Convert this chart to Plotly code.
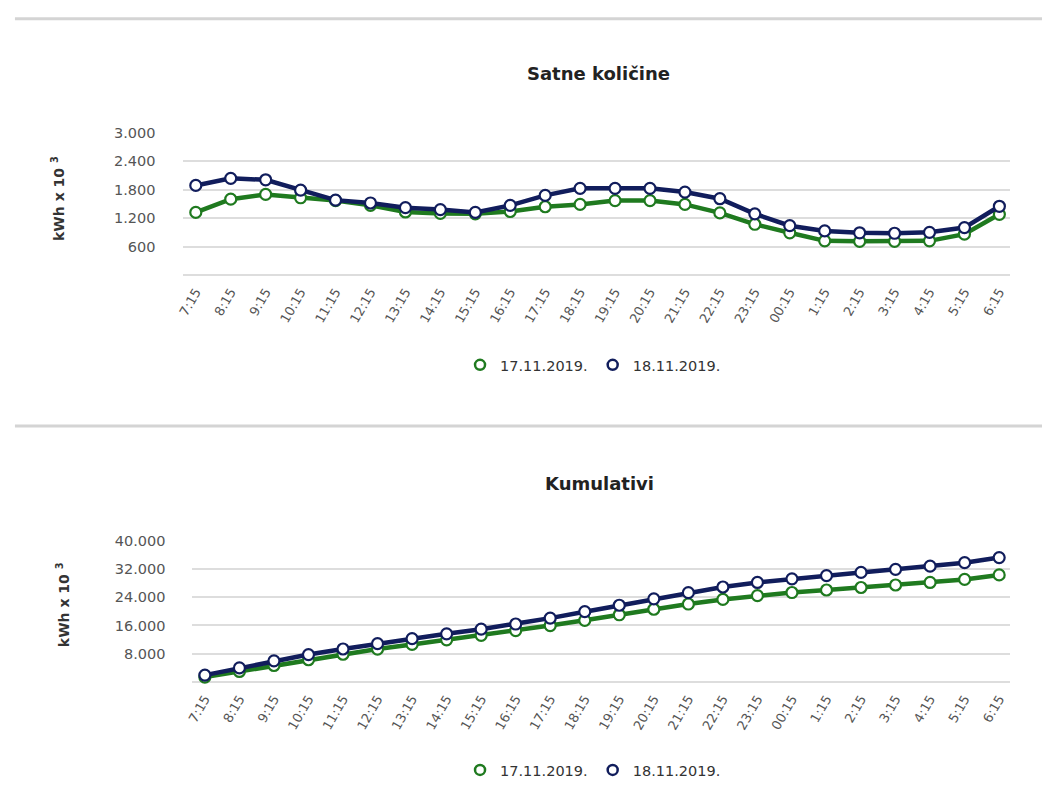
import plotly.graph_objects as go

hours = ["7:15", "8:15", "9:15", "10:15", "11:15", "12:15", "13:15", "14:15", "15:15",
         "16:15", "17:15", "18:15", "19:15", "20:15", "21:15", "22:15", "23:15", "00:15",
         "1:15", "2:15", "3:15", "4:15", "5:15", "6:15"]

hourly_17 = [1320, 1600, 1700, 1630, 1570, 1470, 1330, 1300, 1290, 1340, 1440, 1490,
             1570, 1570, 1490, 1310, 1070, 890, 720, 710, 710, 720, 860, 1280]
hourly_18 = [1890, 2040, 2010, 1790, 1580, 1520, 1420, 1380, 1320, 1470, 1680, 1830,
             1830, 1830, 1750, 1610, 1290, 1040, 930, 890, 880, 900, 1000, 1450]

cum_17 = [1320, 2920, 4620, 6250, 7820, 9290, 10620, 11920, 13210, 14550, 15990, 17480,
          19050, 20620, 22110, 23420, 24490, 25380, 26100, 26810, 27520, 28240, 29100, 30380]
cum_18 = [1890, 3930, 5940, 7730, 9310, 10830, 12250, 13630, 14950, 16420, 18100, 19930,
          21760, 23590, 25340, 26950, 28240, 29280, 30210, 31100, 31980, 32880, 33880, 35330]

series_names = ["17.11.2019.", "18.11.2019."]
colors = ["#1f7a1f", "#111d5c"]

top_ticks = [600, 1200, 1800, 2400, 3000]
top_ticktext = ["600", "1.200", "1.800", "2.400", "3.000"]
bot_ticks = [8000, 16000, 24000, 32000, 40000]
bot_ticktext = ["8.000", "16.000", "24.000", "32.000", "40.000"]

W, H = 1042, 786
FONT = "DejaVu Sans, Liberation Sans, Arial, sans-serif"

fig = go.Figure()

def add_series(xaxis, yaxis, values_list, legend):
    for name, vals, col in zip(series_names, values_list, colors):
        fig.add_trace(go.Scatter(
            x=hours, y=vals, mode="lines+markers", name=name, showlegend=False,
            xaxis=xaxis, yaxis=yaxis, cliponaxis=False,
            line=dict(color=col, width=4.5),
            marker=dict(symbol="circle", size=11, color="white",
                        line=dict(color=col, width=2.2)),
        ))
    for name, col in zip(series_names, colors):
        fig.add_trace(go.Scatter(
            x=[None], y=[None], mode="markers", name=name, legend=legend,
            xaxis=xaxis, yaxis=yaxis,
            marker=dict(symbol="circle", size=10, color="white",
                        line=dict(color=col, width=2.5)),
        ))

add_series("x", "y", [hourly_17, hourly_18], "legend")
add_series("x2", "y2", [cum_17, cum_18], "legend2")

def px_x(p):
    return p / W

def px_y(p):
    return 1 - p / H

xaxis_common = dict(
    type="category", showgrid=False, zeroline=False, showline=False, ticks="",
    tickangle=-60, tickfont=dict(family=FONT, size=13, color="#555555"),
    ticklabelstandoff=6,
)
yaxis_common = dict(
    showgrid=True, gridcolor="#dddddd", gridwidth=1.5,
    zeroline=True, zerolinecolor="#dddddd", zerolinewidth=1.5, showline=False,
    ticks="", tickfont=dict(family=FONT, size=14.5, color="#555555"),
    ticklabelstandoff=26,
)

fig.update_layout(
    width=W, height=H, autosize=False,
    margin=dict(l=0, r=0, t=0, b=0),
    paper_bgcolor="white", plot_bgcolor="white",
    font=dict(family=FONT),
    xaxis=dict(domain=[px_x(176.7), px_x(1010)], range=[-0.38, 23.31], anchor="y",
               **xaxis_common),
    yaxis=dict(domain=[px_y(270.7), px_y(126.7)], range=[0, 3000], anchor="x",
               tickvals=top_ticks, ticktext=top_ticktext, **yaxis_common),
    xaxis2=dict(domain=[px_x(186.7), px_x(1010)], range=[-0.36, 23.32], anchor="y2",
                **xaxis_common),
    yaxis2=dict(domain=[px_y(683.3), px_y(540.7)], range=[0, 40000], anchor="x2",
                tickvals=bot_ticks, ticktext=bot_ticktext, **yaxis_common),
    legend=dict(orientation="h", x=px_x(590), y=px_y(362), xanchor="center", yanchor="middle",
                font=dict(family=FONT, size=14.5, color="#333333"), bgcolor="rgba(0,0,0,0)"),
    legend2=dict(orientation="h", x=px_x(590), y=px_y(773), xanchor="center", yanchor="middle",
                 font=dict(family=FONT, size=14.5, color="#333333"), bgcolor="rgba(0,0,0,0)"),
    shapes=[
        dict(type="line", xref="paper", yref="paper", x0=px_x(8), x1=1, y0=px_y(11), y1=px_y(11),
             line=dict(color="#d4d4d4", width=3)),
        dict(type="line", xref="paper", yref="paper", x0=px_x(8), x1=1, y0=px_y(424), y1=px_y(424),
             line=dict(color="#d4d4d4", width=3)),
    ],
    annotations=[
        dict(text="<b>Satne količine</b>", xref="paper", yref="paper", x=px_x(595), y=px_y(66),
             showarrow=False, font=dict(family=FONT, size=18, color="#222222"),
             xanchor="center", yanchor="middle"),
        dict(text="<b>Kumulativi</b>", xref="paper", yref="paper", x=px_x(597), y=px_y(482),
             showarrow=False, font=dict(family=FONT, size=18, color="#222222"),
             xanchor="center", yanchor="middle"),
        dict(text="<b>kWh x 10 <sup>3</sup></b>", xref="paper", yref="paper", x=px_x(52),
             y=px_y(193), textangle=-90, showarrow=False,
             font=dict(family=FONT, size=14, color="#333333"),
             xanchor="center", yanchor="middle"),
        dict(text="<b>kWh x 10 <sup>3</sup></b>", xref="paper", yref="paper", x=px_x(56),
             y=px_y(605), textangle=-90, showarrow=False,
             font=dict(family=FONT, size=14, color="#333333"),
             xanchor="center", yanchor="middle"),
    ],
)

fig.write_html(
    "out.html",
    config={"displayModeBar": False},
    post_script="document.body.style.margin='0';document.body.style.overflow='hidden';",
)
